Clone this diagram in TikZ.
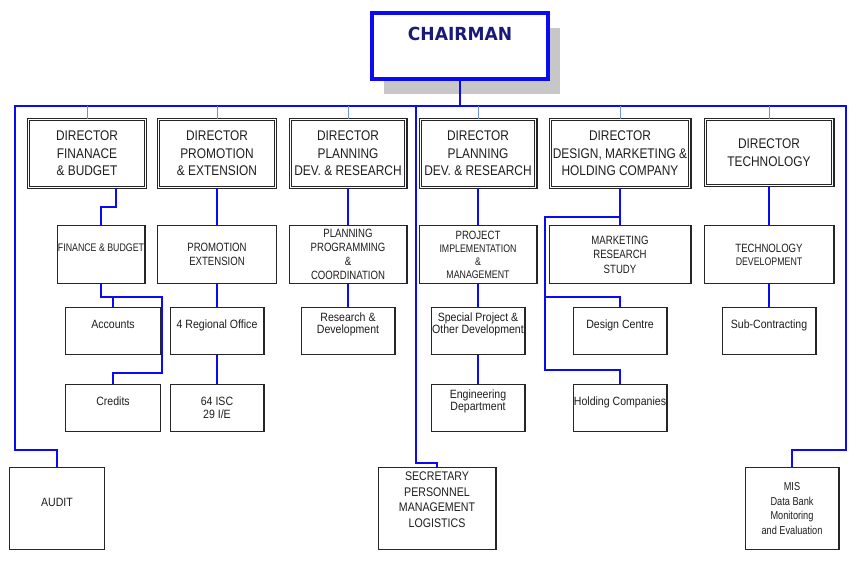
\documentclass[tikz,border=0pt]{standalone}
\usepackage{fontspec}
\setmainfont{Liberation Sans}
\newfontfamily\dirfont[FakeStretch=0.85]{Liberation Sans}
\newfontfamily\subfont[FakeStretch=0.8]{Liberation Sans}
\newfontfamily\unitfont[FakeStretch=0.88]{Liberation Sans}
\newfontfamily\headfont[FakeStretch=0.95]{DejaVu Sans}
\usepackage{xcolor}
\usetikzlibrary{calc}
\usetikzlibrary{shadows}
\definecolor{linkblue}{RGB}{10,10,245}
\definecolor{dropblue}{RGB}{110,145,215}
\definecolor{headnavy}{RGB}{25,25,120}
\definecolor{boxtext}{RGB}{30,30,30}

\begin{document}
\begin{tikzpicture}[x=1pt,y=-1pt,
  chairbox/.style={draw=linkblue,line width=4pt,fill=white,inner sep=0pt,
    minimum width=176pt,minimum height=66pt,text=headnavy,
    font=\headfont\bfseries\fontsize{18}{20}\selectfont,
    drop shadow={shadow xshift=12pt,shadow yshift=-15pt,fill=black!22,opacity=1}},
  dirbox/.style n args={2}{draw=black!85,double,line width=1.1pt,double distance=1.2pt,
    fill=white,inner sep=0pt,align=center,text=boxtext,
    font=\dirfont\fontsize{14}{17.5}\selectfont,minimum width=#1,minimum height=#2},
  box/.style n args={2}{draw=black!85,line width=1.2pt,fill=white,inner sep=0pt,
    align=center,text=boxtext,minimum width=#1,minimum height=#2},
  lift/.style={text depth=#1},
  subtext/.style={font=\subfont\fontsize{12}{14}\selectfont},
  unittext/.style={font=\unitfont\fontsize{12}{12.5}\selectfont},
  bus/.style={draw=linkblue,line width=1.5pt},
  droplink/.style={draw=dropblue,line width=1pt},
  link/.style={draw=linkblue,line width=2pt}
]
\useasboundingbox (0,0) rectangle (859,567);

% chairman
\node[chairbox,lift=24pt] (chair) at (460,46) {CHAIRMAN};

% directors
\node[dirbox={116.6pt}{67.6pt}] (d1) at (87,153.5) {DIRECTOR\\FINANACE\\\& BUDGET};
\node[dirbox={116.6pt}{67.6pt}] (d2) at (217,153.5) {DIRECTOR\\PROMOTION\\\& EXTENSION};
\node[dirbox={115.6pt}{67.6pt}] (d3) at (348,153.5) {DIRECTOR\\PLANNING\\DEV. \& RESEARCH};
\node[dirbox={115.6pt}{67.6pt}] (d4) at (478,153.5) {DIRECTOR\\PLANNING\\DEV. \& RESEARCH};
\node[dirbox={139.6pt}{67.6pt}] (d5) at (620,153.5) {DIRECTOR\\DESIGN, MARKETING \&\\HOLDING COMPANY};
\node[dirbox={127.6pt}{65.6pt}] (d6) at (769,152.5) {DIRECTOR\\TECHNOLOGY};

% second row
\node[box={87.8pt}{57.8pt},lift=14pt,font=\subfont\fontsize{11}{13}\selectfont] (fb) at (101,254.5) {FINANCE \& BUDGET};
\node[box={118.8pt}{57.8pt},subtext] (pe) at (217,254.5) {PROMOTION\\EXTENSION};
\node[box={117.8pt}{57.8pt},subtext] (pp) at (348,254.5) {PLANNING\\PROGRAMMING\\\&\\COORDINATION};
\node[box={117.8pt}{57.8pt},font=\subfont\fontsize{11}{13}\selectfont] (pi) at (478,254.5)
  {{\fontsize{12}{13}\selectfont PROJECT}\\IMPLEMENTATION\\\&\\MANAGEMENT};
\node[box={141.8pt}{57.8pt},font=\subfont\fontsize{12}{14.5}\selectfont] (mr) at (620,254.5) {MARKETING\\RESEARCH\\STUDY};
\node[box={129.8pt}{57.8pt},font=\subfont\fontsize{12}{13}\selectfont] (td) at (769,254.5)
  {TECHNOLOGY\\{\fontsize{11}{13}\selectfont DEVELOPMENT}};

% third row
\node[box={94.8pt}{46.8pt},unittext,lift=14pt] (acc) at (113,331) {Accounts};
\node[box={93.8pt}{46.8pt},unittext,lift=14pt] (ro) at (217,331) {4 Regional Office};
\node[box={93.8pt}{46.8pt},unittext,lift=16pt] (rd) at (348,331) {Research \&\\Development};
\node[box={93.8pt}{46.8pt},unittext,lift=16pt] (sp) at (478,331) {Special Project \&\\Other Development};
\node[box={93.8pt}{46.8pt},unittext,lift=14pt] (dc) at (620,331) {Design Centre};
\node[box={93.8pt}{46.8pt},unittext,lift=14pt] (sc) at (769,331) {Sub-Contracting};

% fourth row
\node[box={94.8pt}{46.8pt},unittext,lift=14pt] (cr) at (113,408) {Credits};
\node[box={93.8pt}{46.8pt},unittext] (isc) at (217,408) {64 ISC\\29 I/E};
\node[box={93.8pt}{46.8pt},unittext,lift=16pt] (ed) at (478,408) {Engineering\\Department};
\node[box={93.8pt}{46.8pt},unittext,lift=14pt] (hc) at (620,408) {Holding Companies};

% staff units
\node[box={94.8pt}{81.8pt},unittext,lift=13pt] (au) at (57,508.5) {AUDIT};
\node[box={117.8pt}{81.8pt},lift=18pt,font=\dirfont\fontsize{12.5}{15.6}\selectfont] (se) at (437,508.5)
  {SECRETARY\\PERSONNEL\\MANAGEMENT\\LOGISTICS};
\node[box={93.8pt}{81.8pt},font=\subfont\fontsize{11.5}{14.5}\selectfont] (mis) at (792,508.5)
  {MIS\\Data Bank\\Monitoring\\and Evaluation};

\coordinate (busL) at (15,106);
\coordinate (busR) at (846,106);
\coordinate (secbus) at (416,106);
\coordinate (fbturn) at (162,297);
\coordinate (mrturn) at (545,217);

% main bus round the chart
\draw[link] (chair.south) -- (chair.south |- busL);
\draw[bus] (au.north) -- ++(0,-17) -| (busL) -- (busR) |- ([yshift=17pt]mis.north) -- (mis.north);
\draw[bus] (secbus) |- ([yshift=4pt]se.north) -- (se.north);
\foreach \i in {1,...,6}
  \draw[droplink] (d\i.north) -- (d\i.north |- busL);

% directors to sections
\draw[link] ([xshift=29pt]d1.south) |- ([yshift=18pt]fb.north) -- (fb.north);
\foreach \a/\b in {d2/pe,d3/pp,d4/pi,d5/mr,d6/td}
  \draw[link] (\a.south) -- (\a.south |- \b.north);
\foreach \a/\b in {pe/ro,ro/isc,pp/rd,pi/sp,sp/ed,td/sc}
  \draw[link] (\a.south) -- (\a.south |- \b.north);

% finance branches
\draw[link] (fb.south) |- (fbturn) |- ([yshift=11pt]cr.north) -- (cr.north);
\draw[link] (acc.north) -- (acc.north |- fbturn);

% marketing branches
\draw[link] (hc.north) -- ++(0,-14) -| (mrturn) -- (mrturn -| mr.north);
\draw[link] (dc.north) -- ++(0,-10) -| (mrturn);
\end{tikzpicture}
\end{document}
